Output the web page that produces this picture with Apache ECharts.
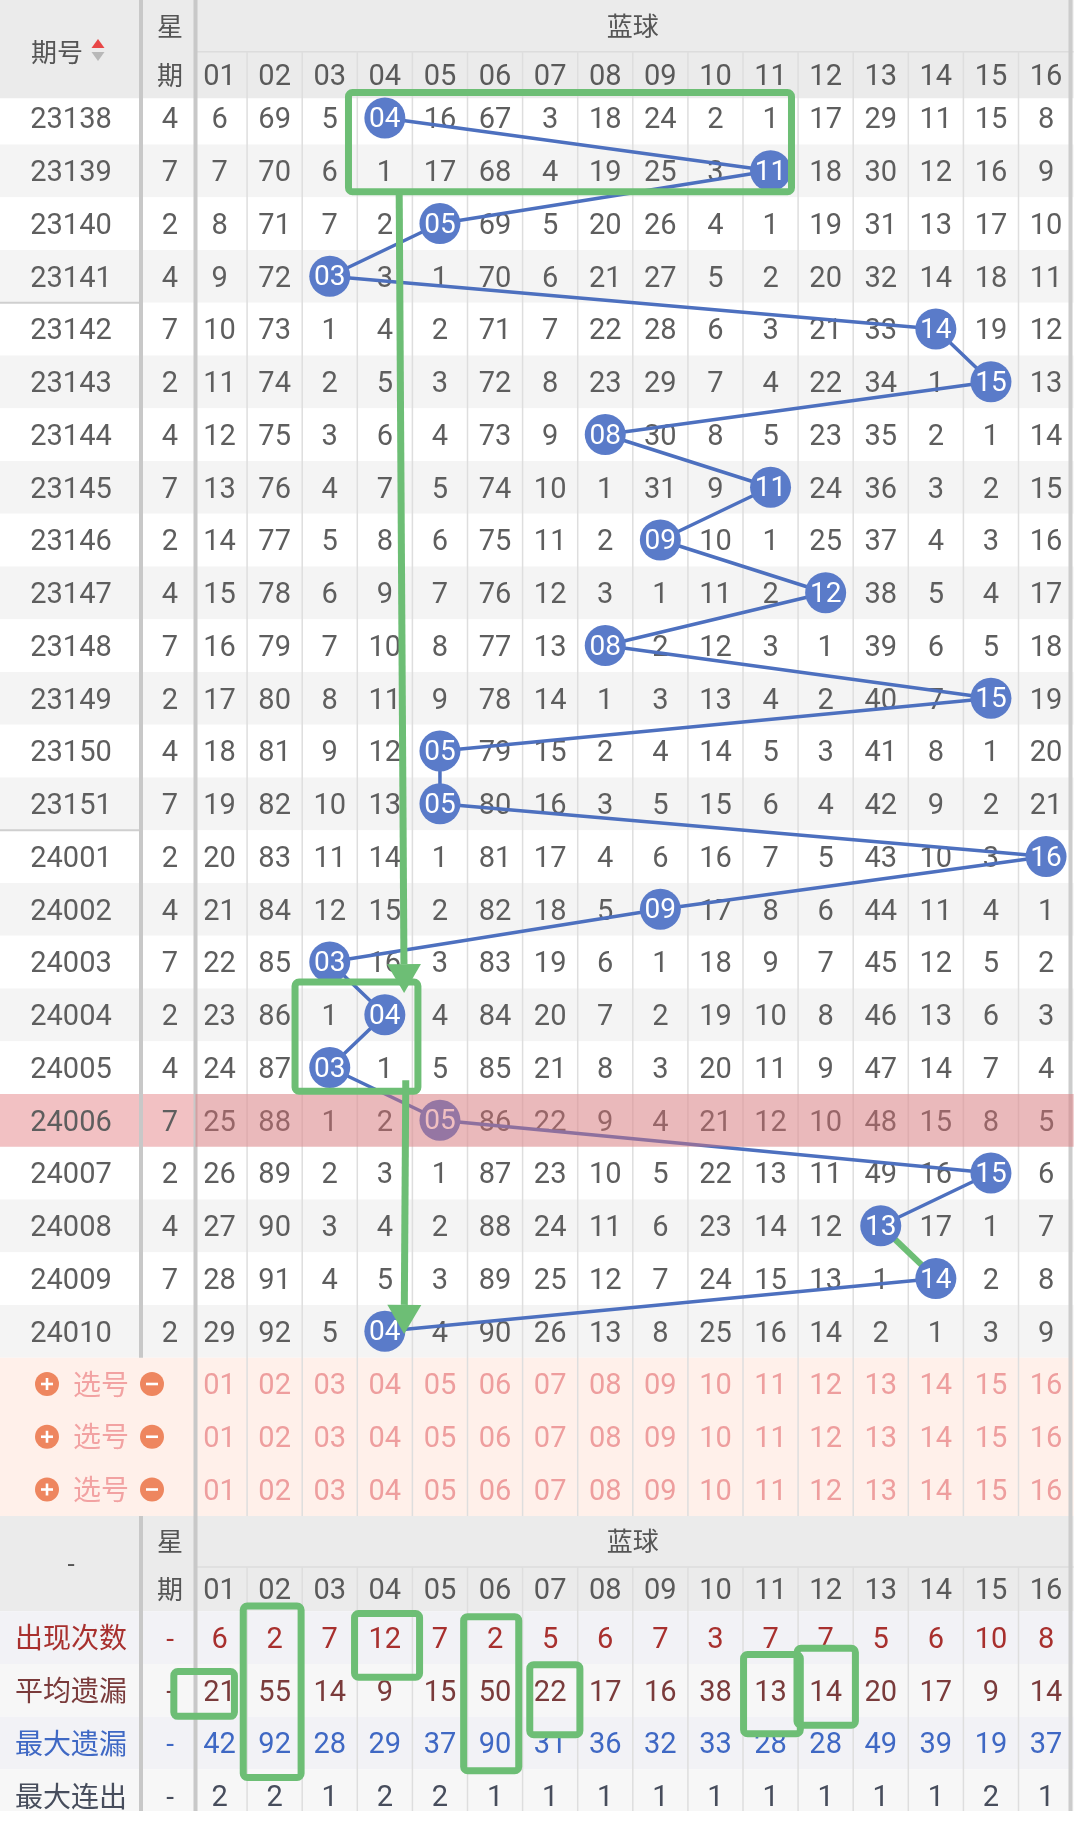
<!DOCTYPE html>
<html><head><meta charset="utf-8">
<script src="https://cdn.jsdelivr.net/npm/echarts/dist/echarts.min.js"></script>
<style>html,body{margin:0;padding:0;background:#fff;}#c{width:1080px;height:1823px;}</style>
</head><body><div id="c"></div>
<script>
// ---------------- data ----------------
const issues = ['23138','23139','23140','23141','23142','23143','23144','23145','23146','23147','23148','23149','23150','23151','24001','24002','24003','24004','24005','24006','24007','24008','24009','24010'];
const weekdays = [4,7,2,4,7,2,4,7,2,4,7,2,4,7,2,4,7,2,4,7,2,4,7,2];
const blueBall = [4,11,5,3,14,15,8,11,9,12,8,15,5,5,16,9,3,4,3,5,15,13,14,4];
// omission values per issue, columns 01..16 (0 = drawn number, shown as ball)
const omission = [
[6,69,5,0,16,67,3,18,24,2,1,17,29,11,15,8],
[7,70,6,1,17,68,4,19,25,3,0,18,30,12,16,9],
[8,71,7,2,0,69,5,20,26,4,1,19,31,13,17,10],
[9,72,0,3,1,70,6,21,27,5,2,20,32,14,18,11],
[10,73,1,4,2,71,7,22,28,6,3,21,33,0,19,12],
[11,74,2,5,3,72,8,23,29,7,4,22,34,1,0,13],
[12,75,3,6,4,73,9,0,30,8,5,23,35,2,1,14],
[13,76,4,7,5,74,10,1,31,9,0,24,36,3,2,15],
[14,77,5,8,6,75,11,2,0,10,1,25,37,4,3,16],
[15,78,6,9,7,76,12,3,1,11,2,0,38,5,4,17],
[16,79,7,10,8,77,13,0,2,12,3,1,39,6,5,18],
[17,80,8,11,9,78,14,1,3,13,4,2,40,7,0,19],
[18,81,9,12,0,79,15,2,4,14,5,3,41,8,1,20],
[19,82,10,13,0,80,16,3,5,15,6,4,42,9,2,21],
[20,83,11,14,1,81,17,4,6,16,7,5,43,10,3,0],
[21,84,12,15,2,82,18,5,0,17,8,6,44,11,4,1],
[22,85,0,16,3,83,19,6,1,18,9,7,45,12,5,2],
[23,86,1,0,4,84,20,7,2,19,10,8,46,13,6,3],
[24,87,0,1,5,85,21,8,3,20,11,9,47,14,7,4],
[25,88,1,2,0,86,22,9,4,21,12,10,48,15,8,5],
[26,89,2,3,1,87,23,10,5,22,13,11,49,16,0,6],
[27,90,3,4,2,88,24,11,6,23,14,12,0,17,1,7],
[28,91,4,5,3,89,25,12,7,24,15,13,1,0,2,8],
[29,92,5,0,4,90,26,13,8,25,16,14,2,1,3,9]
];
const colLabels = ['01','02','03','04','05','06','07','08','09','10','11','12','13','14','15','16'];
const pickRows = ['选号','选号','选号'];
const statLabels = ['出现次数','平均遗漏','最大遗漏','最大连出'];
const appearCount = [6,2,7,12,7,2,5,6,7,3,7,7,5,6,10,8];
const avgMiss = [21,55,14,9,15,50,22,17,16,38,13,14,20,17,9,14];
const maxMiss = [42,92,28,29,37,90,31,36,32,33,28,28,49,39,19,37];
const maxStreak = [2,2,1,2,2,1,1,1,1,1,1,1,1,1,2,1];
const issueHeader = '期号';
const weekHeader = ['星','期'];
const groupTitle = '蓝球';
const highlightIssue = '24006';
const groupBreakAfter = ['23141','23151'];
// hand-drawn green marks (table units: column / row)
const noteBoxes = [
  [3.34, 11.38, -0.483, 1.397],
  [2.37, 4.60, 16.38, 18.45],
  [1.43, 2.48, 28.21, 31.46],
  [3.45, 4.63, 28.35, 29.56],
  [5.43, 6.43, 28.41, 31.33],
  [0.17, 1.27, 29.45, 30.30],
  [6.63, 7.54, 29.32, 30.65],
  [10.51, 11.54, 29.13, 30.63],
  [11.48, 12.54, 29.01, 30.47]
];
const noteArrows = [
  [4.26, 1.40, 4.35, 16.59],
  [4.38, 18.24, 4.35, 23.05]
];
const noteLinkFrom = [21];

// ---------------- layout ----------------
const W = 1080, H = 1823;
const X0 = 192, CW = 55.1, Y0 = 118, RH = 52.75;
const toX = px => 0.5 + (px - X0) / CW;
const toY = px => (px - Y0) / RH;
const X_MIN = toX(0), X_MAX = toX(W), Y_MIN = toY(0), Y_MAX = toY(H);
const X_END = colLabels.length + 0.5;
const X_ISSUE = toX(71), X_SEP1 = toX(141), X_WEEK = toX(170), X_SEP2 = toX(195.5), X_RLINE = toX(1070.5);
const X_PICK = toX(97);
const HEAD_MID = toY(51.7), HEAD_BOT = toY(98.3);
const N = issues.length;
const PICK0 = N;
const BH_TOP = PICK0 + pickRows.length - 0.5;
const BH_MID = toY(1567), BH_BOT = toY(1611.3);
const END = toY(1811);
const FONT = 'Roboto, "Noto Sans CJK SC", sans-serif';
const CJK = '"Noto Sans CJK SC", "Noto Sans", sans-serif';
const TXT = '#5e5e5e';
const DIGIT_DY = 3;

const hi = issues.indexOf(highlightIssue);

// backgrounds
const bands = [];
const addBand = (x0, x1, y0, y1, fill) => bands.push({x0, x1, y0, y1, fill});
issues.forEach((_, i) => addBand(X_MIN, X_END, i - 0.5, i + 0.5, i % 2 ? '#f4f4f4' : '#ffffff'));
addBand(X_MIN, X_SEP2, hi - 0.5, hi + 0.5, '#f2c1c3');
addBand(X_MIN, X_END, Y_MIN, HEAD_BOT, '#ebebeb');
addBand(X_MIN, X_END, PICK0 - 0.5, BH_TOP, '#fff0ea');
addBand(X_MIN, X_END, BH_TOP, BH_BOT, '#ebebeb');
statLabels.forEach((_, j) => addBand(X_MIN, X_END, BH_BOT + j, Math.min(BH_BOT + j + 1, END), j % 2 ? '#f7f7f7' : '#f2f2f6'));

// rules
const rules = [];
const addRule = (x0, y0, x1, y1, stroke, w) => rules.push({x0, y0, x1, y1, stroke, w});
addRule(X_SEP2, HEAD_MID, X_END, HEAD_MID, '#dcdcdc', 1.5);
addRule(X_SEP2, BH_MID, X_END, BH_MID, '#dcdcdc', 1.5);
for (let k = 1; k < colLabels.length; k++) {
  addRule(k + 0.5, HEAD_MID, k + 0.5, BH_TOP, '#dedede', 1.5);
  addRule(k + 0.5, BH_MID, k + 0.5, END, '#dedede', 1.5);
}
groupBreakAfter.forEach(iss => { const i = issues.indexOf(iss); addRule(X_MIN, i + 0.5, X_SEP1, i + 0.5, '#cfcfcf', 2); });
addRule(X_SEP1, Y_MIN, X_SEP1, N - 0.5, '#c8c8c8', 4);
addRule(X_SEP1, BH_TOP, X_SEP1, END, '#c8c8c8', 4);
addRule(X_SEP2, Y_MIN, X_SEP2, END, '#c8c8c8', 4);
addRule(X_RLINE, Y_MIN, X_RLINE, END, '#cccccc', 4);

// texts
const texts = [];
const addText = (x, y, text, fill, size, family, dx) => {
  const cjk = !!family;
  texts.push({x, y, text: String(text), fill, size, family: family || FONT, dx: dx || 0, dy: cjk ? 0 : DIGIT_DY});
};
const hMid1 = (Y_MIN + HEAD_MID) / 2, hMid2 = (HEAD_MID + HEAD_BOT) / 2;
const bMid1 = (BH_TOP + BH_MID) / 2, bMid2 = (BH_MID + BH_BOT) / 2;
addText(X_ISSUE, toY(52), issueHeader, '#555', 26, CJK, -14);
addText(X_WEEK, hMid1, weekHeader[0], '#555', 26, CJK);
addText(X_WEEK, hMid2, weekHeader[1], '#555', 26, CJK);
addText(8.5, hMid1, groupTitle, '#555', 26, CJK);
colLabels.forEach((c, k) => addText(k + 1, hMid2, c, '#5a5a5a', 29));
issues.forEach((iss, i) => {
  addText(X_ISSUE, i, iss, TXT, 29);
  addText(X_WEEK, i, weekdays[i], TXT, 29);
  omission[i].forEach((v, k) => { if (v !== 0) addText(k + 1, i, v, TXT, 29); });
});
pickRows.forEach((lab, r) => {
  addText(X_PICK, PICK0 + r, lab, '#f2a2a2', 28, CJK, 4);
  colLabels.forEach((c, k) => addText(k + 1, PICK0 + r, c, '#ee9e9e', 29));
});
addText(X_ISSUE, (BH_TOP + BH_BOT) / 2, '-', '#555', 26);
addText(X_WEEK, bMid1, weekHeader[0], '#555', 26, CJK);
addText(X_WEEK, bMid2, weekHeader[1], '#555', 26, CJK);
addText(8.5, bMid1, groupTitle, '#555', 26, CJK);
colLabels.forEach((c, k) => addText(k + 1, bMid2, c, '#5a5a5a', 29));
const statColors = ['#a8302e', '#7a3b3b', '#3f68c4', '#474d5c'];
[appearCount, avgMiss, maxMiss, maxStreak].forEach((arr, j) => {
  const y = BH_BOT + 0.5 + j;
  addText(X_ISSUE, y, statLabels[j], statColors[j], 28, CJK);
  addText(X_WEEK, y, '-', statColors[j], 28);
  arr.forEach((v, k) => addText(k + 1, y, v, statColors[j], 29));
});

// icons (plus / minus on pick rows, sort arrows)
const icons = [];
pickRows.forEach((_, r) => {
  icons.push({x: X_PICK, y: PICK0 + r, kind: 'plus', dx: -50});
  icons.push({x: X_PICK, y: PICK0 + r, kind: 'minus', dx: 55});
});
icons.push({x: X_ISSUE, y: toY(52), kind: 'sort', dx: 27});

function layer(name, items, z, draw) {
  return {
    type: 'custom', name, z, silent: true, clip: false, animation: false,
    data: items.map((d, i) => [d.x !== undefined ? d.x : d.x0, d.y !== undefined ? d.y : d.y0, i]),
    renderItem: (params, api) => draw(items[params.dataIndex], api)
  };
}
function rectOf(api, x0, x1, y0, y1) {
  const a = api.coord([x0, y0]), b = api.coord([x1, y1]);
  return {x: Math.min(a[0], b[0]), y: Math.min(a[1], b[1]), width: Math.abs(b[0] - a[0]), height: Math.abs(b[1] - a[1])};
}

const GREEN = '#6dbe75';
const option = {
  animation: false,
  backgroundColor: '#ffffff',
  grid: {left: 0, top: 0, width: W, height: H, containLabel: false},
  xAxis: {type: 'value', min: X_MIN, max: X_MAX, show: false},
  yAxis: {type: 'value', min: Y_MIN, max: Y_MAX, inverse: true, show: false},
  series: [
    layer('bands', bands, 1, (b, api) => ({type: 'rect', shape: rectOf(api, b.x0, b.x1, b.y0, b.y1), style: {fill: b.fill}})),
    layer('rules', rules, 2, (r, api) => {
      const a = api.coord([r.x0, r.y0]), b = api.coord([r.x1, r.y1]);
      return {type: 'line', shape: {x1: a[0], y1: a[1], x2: b[0], y2: b[1]}, style: {stroke: r.stroke, lineWidth: r.w}};
    }),
    layer('texts', texts, 3, (t, api) => {
      const p = api.coord([t.x, t.y]);
      return {type: 'text', x: p[0] + t.dx, y: p[1] + t.dy, style: {text: t.text, fill: t.fill, font: t.size + 'px ' + t.family, align: 'center', verticalAlign: 'middle', textAlign: 'center', textVerticalAlign: 'middle'}};
    }),
    layer('icons', icons, 3, (ic, api) => {
      const p = api.coord([ic.x, ic.y]);
      const cx = p[0] + ic.dx, cy = p[1];
      if (ic.kind === 'sort') {
        return {type: 'group', children: [
          {type: 'polygon', shape: {points: [[cx, cy - 13], [cx - 6.5, cy - 4], [cx + 6.5, cy - 4]]}, style: {fill: '#e84646'}},
          {type: 'polygon', shape: {points: [[cx - 6.5, cy], [cx + 6.5, cy], [cx, cy + 9]]}, style: {fill: '#b8b8b8'}}
        ]};
      }
      const kids = [
        {type: 'circle', shape: {cx, cy, r: 12}, style: {fill: '#ee865f'}},
        {type: 'line', shape: {x1: cx - 6, y1: cy, x2: cx + 6, y2: cy}, style: {stroke: '#fff', lineWidth: 2.6}}
      ];
      if (ic.kind === 'plus') kids.push({type: 'line', shape: {x1: cx, y1: cy - 6, x2: cx, y2: cy + 6}, style: {stroke: '#fff', lineWidth: 2.6}});
      return {type: 'group', children: kids};
    }),
    {
      type: 'line', name: 'path', z: 4, silent: true, animation: false,
      data: blueBall.map((b, i) => [b, i]), symbol: 'none',
      lineStyle: {color: '#4d70bf', width: 3.5}
    },
    {
      type: 'line', name: 'link', z: 5, silent: true, animation: false,
      data: noteLinkFrom.flatMap(i => [[blueBall[i], i], [blueBall[i + 1], i + 1]]), symbol: 'none',
      lineStyle: {color: GREEN, width: 6}
    },
    {
      type: 'scatter', name: 'balls', z: 6, silent: true, animation: false,
      data: blueBall.map((b, i) => [b, i]), symbol: 'circle', symbolSize: 41,
      itemStyle: {color: '#5a7bc9', opacity: 1},
      label: {show: true, position: 'inside', offset: [0, 2], formatter: p => String(p.value[0]).padStart(2, '0'), color: '#ffffff', fontSize: 28, fontFamily: 'Roboto'}
    },
    layer('highlight', [{x0: X_SEP2, x1: X_END, y0: hi - 0.5, y1: hi + 0.5}], 7, (b, api) => ({type: 'rect', shape: rectOf(api, b.x0, b.x1, b.y0, b.y1), style: {fill: 'rgba(222,112,118,0.45)'}})),
    layer('noteBoxes', noteBoxes.map(b => ({x0: b[0], x1: b[1], y0: b[2], y1: b[3]})), 8, (b, api) => ({type: 'rect', shape: Object.assign(rectOf(api, b.x0, b.x1, b.y0, b.y1), {r: 4}), style: {fill: 'none', stroke: GREEN, lineWidth: 7}})),
    layer('noteArrows', noteArrows.map(a => ({x0: a[0], y0: a[1], x1: a[2], y1: a[3]})), 8, (a, api) => {
      const s = api.coord([a.x0, a.y0]), t = api.coord([a.x1, a.y1]);
      const dx = t[0] - s[0], dy = t[1] - s[1], len = Math.hypot(dx, dy), ux = dx / len, uy = dy / len;
      const hl = 29, hw = 17;
      const bx = t[0] - ux * hl, by = t[1] - uy * hl;
      return {type: 'group', children: [
        {type: 'line', shape: {x1: s[0], y1: s[1], x2: bx, y2: by}, style: {stroke: GREEN, lineWidth: 7}},
        {type: 'polygon', shape: {points: [[t[0], t[1]], [bx - uy * hw, by + ux * hw], [bx + uy * hw, by - ux * hw]]}, style: {fill: GREEN}}
      ]};
    })
  ]
};
const chart = echarts.init(document.getElementById('c'), null, {renderer: 'canvas', width: W, height: H});
chart.setOption(option);
</script></body></html>
